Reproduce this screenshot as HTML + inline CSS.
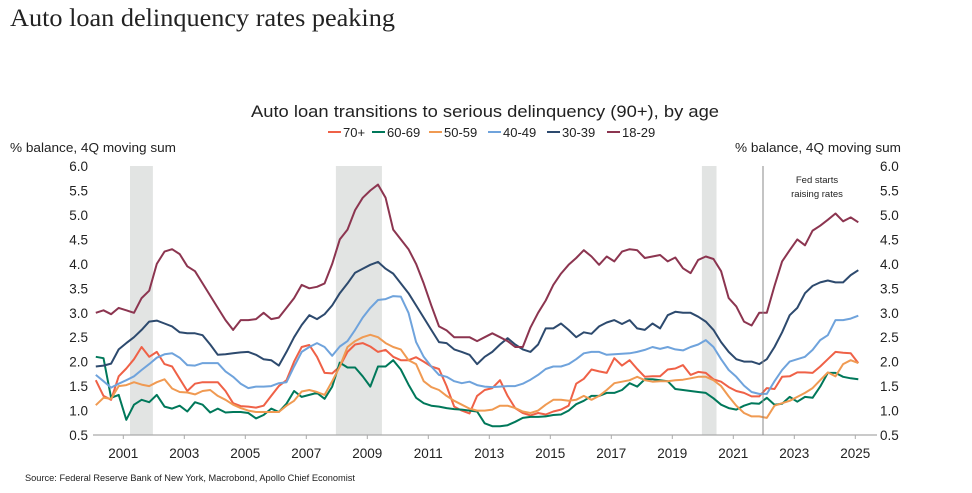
<!DOCTYPE html>
<html><head><meta charset="utf-8"><style>
html,body{margin:0;padding:0;background:#fff;}
svg{display:block;}
text{font-family:"Liberation Sans",sans-serif;fill:#222;}
</style></head><body>
<svg id="chart" width="972" height="493" viewBox="0 0 972 493" xmlns="http://www.w3.org/2000/svg">
<text x="10" y="26" style="font-family:'Liberation Serif',serif;font-size:25px" textLength="385" lengthAdjust="spacingAndGlyphs">Auto loan delinquency rates peaking</text>
<text x="485" y="117" text-anchor="middle" style="font-size:17px" textLength="468" lengthAdjust="spacingAndGlyphs">Auto loan transitions to serious delinquency (90+), by age</text>
<g id="legend"></g>
<text x="10" y="152" style="font-size:12.5px" textLength="166" lengthAdjust="spacingAndGlyphs">% balance, 4Q moving sum</text>
<text x="901" y="152" text-anchor="end" style="font-size:12.5px" textLength="166" lengthAdjust="spacingAndGlyphs">% balance, 4Q moving sum</text>
<g id="shades"></g>
<g id="axes"></g>
<g id="lines"></g>
<line x1="763" y1="166" x2="763" y2="435" stroke="#888" stroke-width="1"/>
<text x="817" y="183" text-anchor="middle" style="font-size:9.5px">Fed starts</text>
<text x="817" y="197" text-anchor="middle" style="font-size:9.5px">raising rates</text>
<text x="25" y="481" style="font-size:9px" textLength="330" lengthAdjust="spacingAndGlyphs">Source: Federal Reserve Bank of New York, Macrobond, Apollo Chief Economist</text>
</svg>
<script>
const seriesNames = ["70+","60-69","50-59","40-49","30-39","18-29"];
const seriesColors = ["#ef6147","#00785a","#f09a52","#6fa3dc","#2d4a6e","#8c3550"];
const yTicks = [0.5,1.0,1.5,2.0,2.5,3.0,3.5,4.0,4.5,5.0,5.5,6.0];
const xTickYears = [2001,2003,2005,2007,2009,2011,2013,2015,2017,2019,2021,2023,2025];
const recessions = [[2001.22,2001.97],[2007.97,2009.48],[2019.97,2020.45]];
const startYear = 2000.1;
const s70 = [1.62,1.3,1.22,1.7, 1.86,2.05,2.3,2.1, 2.2,1.95,1.9,1.65, 1.4,1.55,1.58,1.58, 1.58,1.4,1.15,1.09, 1.08,1.06,1.1,1.3, 1.5,1.62,2.0,2.3, 2.34,2.1,1.77,1.76, 1.9,2.2,2.35,2.38, 2.31,2.2,2.24,2.1, 2.03,2.03,2.09,2.0, 1.9,1.85,1.5,1.08, 1.0,0.94,1.3,1.42, 1.46,1.62,1.3,1.05, 0.95,0.9,0.95,0.92, 0.98,1.02,1.1,1.55, 1.65,1.84,1.8,1.77, 2.07,1.92,2.03,1.85, 1.69,1.7,1.7,1.84, 1.86,1.93,1.73,1.79, 1.77,1.64,1.59,1.48, 1.4,1.36,1.29,1.29, 1.46,1.44,1.69,1.7, 1.78,1.78,1.77,1.9, 2.05,2.2,2.18,2.17, 1.97];
const s60 = [2.1,2.07,1.26,1.32, 0.81,1.12,1.22,1.17, 1.32,1.08,1.04,1.1, 0.98,1.17,1.12,0.96, 1.04,0.96,0.97,0.97, 0.95,0.84,0.91,1.04, 0.97,1.14,1.4,1.28, 1.32,1.36,1.24,1.49, 1.98,1.88,1.88,1.7, 1.49,1.9,1.9,2.03, 1.84,1.53,1.26,1.15, 1.1,1.08,1.05,1.03, 1.02,1.0,0.98,0.74, 0.68,0.68,0.7,0.77, 0.85,0.87,0.87,0.88, 0.91,0.92,1.0,1.13, 1.2,1.3,1.3,1.36, 1.36,1.42,1.56,1.49, 1.64,1.64,1.62,1.6, 1.44,1.42,1.4,1.38, 1.36,1.25,1.12,1.05, 1.02,1.1,1.15,1.14, 1.26,1.12,1.14,1.28, 1.18,1.28,1.26,1.49, 1.77,1.77,1.69,1.66, 1.64];
const s50 = [1.11,1.26,1.24,1.5, 1.52,1.58,1.53,1.5, 1.58,1.64,1.45,1.38, 1.37,1.33,1.4,1.42, 1.3,1.22,1.12,1.05, 1.0,0.97,0.97,0.97, 0.97,1.1,1.2,1.39, 1.42,1.38,1.32,1.6, 1.9,2.3,2.42,2.5, 2.55,2.5,2.38,2.3, 2.25,2.03,1.95,1.6, 1.48,1.42,1.3,1.2, 1.12,1.04,1.0,1.0, 1.02,1.1,1.1,1.05, 0.98,0.95,1.0,1.12, 1.22,1.22,1.2,1.22, 1.3,1.22,1.3,1.42, 1.56,1.59,1.62,1.69, 1.62,1.59,1.6,1.6, 1.62,1.63,1.66,1.69, 1.69,1.62,1.5,1.29, 1.1,0.95,0.88,0.88, 0.85,1.1,1.15,1.2, 1.28,1.36,1.46,1.62, 1.78,1.7,1.95,2.03, 1.97];
const s40 = [1.73,1.6,1.47,1.55, 1.62,1.7,1.83,1.95, 2.08,2.15,2.17,2.08, 1.93,1.92,1.97,1.97, 1.97,1.8,1.69,1.55, 1.46,1.49,1.49,1.5, 1.56,1.58,1.9,2.2, 2.3,2.38,2.3,2.12, 2.31,2.42,2.65,2.9, 3.1,3.26,3.28,3.34, 3.33,3.0,2.4,2.1, 1.9,1.73,1.69,1.6, 1.56,1.59,1.52,1.49, 1.48,1.49,1.5,1.5, 1.55,1.63,1.73,1.85, 1.9,1.9,1.95,2.05, 2.17,2.2,2.2,2.14, 2.15,2.16,2.17,2.2, 2.24,2.3,2.26,2.3, 2.25,2.23,2.3,2.35, 2.44,2.3,2.05,1.83, 1.69,1.51,1.38,1.34, 1.34,1.6,1.83,2.0, 2.05,2.1,2.24,2.44, 2.54,2.85,2.85,2.88, 2.94];
const s30 = [1.9,1.92,1.96,2.25, 2.38,2.5,2.65,2.82, 2.84,2.78,2.72,2.6, 2.58,2.58,2.54,2.35, 2.14,2.15,2.17,2.19, 2.2,2.14,2.05,2.03, 1.92,2.2,2.5,2.75, 2.95,2.87,2.97,3.15, 3.4,3.6,3.82,3.9, 3.98,4.04,3.9,3.8, 3.6,3.4,3.15,2.9, 2.65,2.4,2.38,2.25, 2.2,2.14,1.95,2.1, 2.2,2.35,2.48,2.35, 2.25,2.2,2.35,2.68, 2.68,2.78,2.65,2.5, 2.6,2.57,2.72,2.8, 2.85,2.77,2.85,2.68, 2.65,2.78,2.68,2.95, 3.02,3.0,3.0,2.92, 2.82,2.65,2.4,2.2, 2.05,2.0,2.0,1.95, 2.05,2.3,2.6,2.95, 3.1,3.4,3.55,3.62, 3.66,3.62,3.62,3.77, 3.87];
const s18 = [3.0,3.05,2.97,3.1, 3.05,3.0,3.3,3.45, 4.0,4.25,4.3,4.2, 3.95,3.85,3.6,3.35, 3.1,2.85,2.65,2.85, 2.85,2.87,3.0,2.87, 2.9,3.1,3.3,3.57, 3.5,3.53,3.6,4.0, 4.5,4.7,5.1,5.35, 5.5,5.62,5.35,4.7, 4.5,4.3,4.0,3.6, 3.15,2.72,2.64,2.5, 2.5,2.5,2.42,2.5, 2.58,2.5,2.42,2.3, 2.3,2.7,3.0,3.25, 3.57,3.8,3.98,4.12, 4.28,4.15,3.98,4.15, 4.05,4.25,4.3,4.28, 4.12,4.15,4.18,4.05, 4.13,3.91,3.81,4.08, 4.15,4.1,3.85,3.3, 3.13,2.82,2.74,3.0, 3.0,3.55,4.05,4.28, 4.5,4.38,4.68,4.78, 4.9,5.03,4.87,4.95, 4.85];
const allSeries = [s70,s60,s50,s40,s30,s18];

const NS="http://www.w3.org/2000/svg";
function X(yr){return 123.3+(yr-2001)*30.5;}
function Y(v){return 435-(v-0.5)*48.9;}
function mk(tag,attrs,parent){const e=document.createElementNS(NS,tag);for(const k in attrs)e.setAttribute(k,attrs[k]);parent.appendChild(e);return e;}

const shades=document.getElementById('shades');
recessions.forEach(r=>{
  const e=mk('rect',{x:X(r[0]),y:166,width:X(r[1])-X(r[0]),height:269,fill:'#e2e4e3'},shades);
  
  
});

const axes=document.getElementById('axes');
const ax=mk('line',{x1:93,y1:435,x2:877,y2:435,stroke:'#aaa','stroke-width':1.2},axes);


yTicks.forEach(v=>{
  const l=mk('text',{x:88,y:Y(v)+5,'text-anchor':'end','font-size':'13.5'},axes);
  l.textContent=v.toFixed(1);
  
  
  const r=mk('text',{x:880,y:Y(v)+5,'text-anchor':'start','font-size':'13.5'},axes);
  r.textContent=v.toFixed(1);
  
  
});
xTickYears.forEach(yr=>{
  const t=mk('line',{x1:X(yr),y1:435,x2:X(yr),y2:439,stroke:'#aaa'},axes);
  
  
  const l=mk('text',{x:X(yr),y:458,'text-anchor':'middle','font-size':'13.5'},axes);
  l.textContent=String(yr);
  
  
});

const lines=document.getElementById('lines');
allSeries.forEach((s,i)=>{
  const pts=s.map((v,j)=>X(startYear+j*0.25).toFixed(1)+','+Y(v).toFixed(1)).join(' ');
  const p=mk('polyline',{points:pts,fill:'none',stroke:seriesColors[i],'stroke-width':2,'stroke-linejoin':'round'},lines);
  
  
});

const legend=document.getElementById('legend');
const legX=[328,372,429,488,547,607];
seriesNames.forEach((n,i)=>{
  const l=mk('line',{x1:legX[i],y1:132,x2:legX[i]+13,y2:132,stroke:seriesColors[i],'stroke-width':2},legend);
  
  
  const t=mk('text',{x:legX[i]+15,y:137,'font-size':'13'},legend);
  t.textContent=n;
  
  
});
</script>
</body></html>
